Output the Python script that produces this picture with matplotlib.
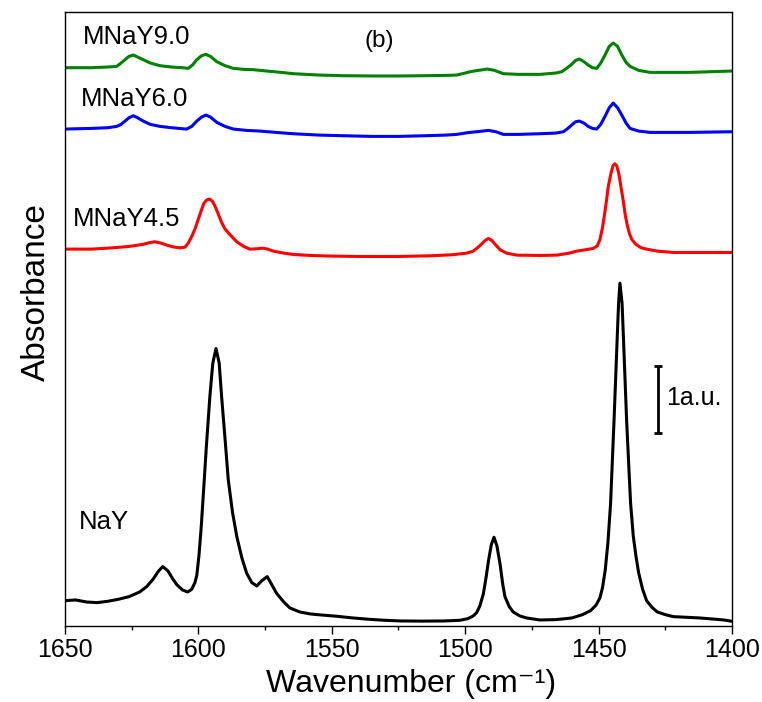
import matplotlib
matplotlib.use('Agg')
import matplotlib.pyplot as plt

plt.rcParams['font.family'] = ['Liberation Sans', 'DejaVu Sans']

# spectra (wavenumber in cm-1, absorbance in a.u.)
nay_wn = [1650, 1646, 1642, 1638, 1634, 1630, 1626, 1622, 1619.4, 1617, 1615,
          1613.4, 1611.5, 1609.5, 1608.1, 1606, 1604, 1602.5, 1601.3, 1600.6,
          1599.8, 1599, 1598.2, 1597, 1595.7, 1594.6, 1593.4, 1592.2, 1591.3,
          1590, 1588.8, 1587.2, 1585.6, 1583.7, 1581.9, 1580, 1578.1, 1576.2,
          1574.2, 1572.5, 1570.7, 1568, 1565.7, 1562, 1558, 1554, 1548, 1542,
          1536, 1530, 1524, 1516, 1508, 1502, 1499, 1497, 1495.7, 1494.5,
          1493.2, 1492.2, 1491.3, 1490.2, 1489.2, 1488.1, 1486.9, 1485.9,
          1485.1, 1483.5, 1482, 1479.5, 1477, 1472, 1466, 1460, 1456, 1453,
          1451, 1449.5, 1448.5, 1447.5, 1446.5, 1445.5, 1444.2, 1443.0, 1442.5,
          1442.0, 1441.2, 1440.7, 1439.5, 1438.5, 1438.0, 1437, 1436, 1435,
          1433.5, 1432, 1430, 1428, 1425, 1422, 1417, 1412, 1406, 1403, 1400]
nay_abs = [0.38, 0.39, 0.36, 0.35, 0.37, 0.40, 0.44, 0.51, 0.59, 0.70, 0.82,
           0.89, 0.83, 0.70, 0.62, 0.54, 0.51, 0.55, 0.65, 0.76,
           1.05, 1.45, 1.94, 2.70, 3.44, 3.94, 4.16, 3.94, 3.44,
           2.80, 2.19, 1.70, 1.34, 1.02, 0.79, 0.65, 0.60, 0.68,
           0.74, 0.62, 0.49, 0.36, 0.27, 0.21, 0.18, 0.165, 0.145, 0.12,
           0.10, 0.085, 0.075, 0.073, 0.075, 0.085, 0.11, 0.15, 0.20, 0.30,
           0.48, 0.72, 0.97, 1.22, 1.33, 1.20, 0.92, 0.62,
           0.44, 0.29, 0.21, 0.15, 0.12, 0.09, 0.095, 0.12, 0.17, 0.23,
           0.31, 0.42, 0.58, 0.84, 1.25, 1.84, 3.09, 4.34, 4.84,
           5.14, 4.84, 4.34, 3.09, 2.25, 1.84, 1.35, 1.05, 0.80,
           0.55, 0.38, 0.28, 0.21, 0.17, 0.14, 0.13, 0.12, 0.10, 0.09, 0.07]

m45_wn = [1650, 1640, 1632, 1626, 1621, 1618, 1616.3, 1614, 1611.9, 1609,
          1606.9, 1605, 1603.8, 1602.5, 1601.3, 1600.2, 1599, 1597.9, 1596.8,
          1595.7, 1594.6, 1593.6, 1592.5, 1591.3, 1590, 1588, 1585.6, 1583,
          1580.7, 1578, 1576, 1574, 1571.9, 1568, 1564.4, 1558, 1551.9, 1540,
          1525, 1513, 1505, 1499.4, 1497, 1495.7, 1494, 1492.5, 1491.3, 1490,
          1488.5, 1486.9, 1484.5, 1480.7, 1472, 1465.7, 1461, 1458.2, 1455,
          1452, 1450.5, 1449.5, 1448.5, 1447.7, 1447, 1446.4, 1445.4, 1444.6,
          1443.9, 1443.2, 1442.4, 1441.6, 1440.7, 1440, 1439.2, 1438.4, 1437.6,
          1436, 1434, 1432, 1428, 1422, 1412, 1400]
m45_abs = [0.15, 0.15, 0.17, 0.19, 0.22, 0.25, 0.26, 0.24, 0.21, 0.18,
           0.17, 0.18, 0.24, 0.34, 0.45, 0.58, 0.72, 0.84, 0.89,
           0.90, 0.86, 0.78, 0.67, 0.55, 0.45, 0.36, 0.26, 0.19,
           0.15, 0.155, 0.165, 0.15, 0.12, 0.09, 0.07, 0.055, 0.047, 0.04,
           0.04, 0.05, 0.065, 0.09, 0.12, 0.16, 0.22, 0.28, 0.31, 0.28,
           0.21, 0.14, 0.09, 0.06, 0.055, 0.06, 0.09, 0.12, 0.14,
           0.16, 0.20, 0.29, 0.48, 0.69, 0.89, 1.08, 1.28, 1.40,
           1.43, 1.40, 1.28, 1.08, 0.86, 0.66, 0.50, 0.38, 0.30,
           0.22, 0.17, 0.15, 0.12, 0.10, 0.10, 0.10]

m60_wn = [1650, 1640, 1634, 1630.6, 1629, 1627.5, 1626, 1624.4, 1622.8, 1620.7,
          1618, 1614.4, 1610, 1606, 1604.4, 1602.5, 1600.6, 1598.8, 1597.2,
          1595.5, 1593.1, 1590, 1586.9, 1582, 1576.9, 1571, 1564.4, 1555,
          1545.7, 1535, 1525, 1515, 1507, 1503.2, 1500, 1498.2, 1494.5, 1491.3,
          1488.5, 1485.7, 1480, 1472, 1466, 1463.2, 1461.5, 1460.1, 1458.6,
          1457.2, 1455.5, 1453.9, 1452.3, 1450.7, 1449.2, 1447.6, 1446, 1444.5,
          1442.9, 1441.3, 1439.7, 1438.2, 1435, 1430.7, 1422, 1415.7, 1408, 1400]
m60_abs = [0.15, 0.16, 0.17, 0.19, 0.22, 0.27, 0.32, 0.35, 0.32, 0.27,
           0.22, 0.19, 0.17, 0.155, 0.15, 0.19, 0.27, 0.33, 0.36,
           0.33, 0.25, 0.19, 0.15, 0.13, 0.12, 0.10, 0.08, 0.06,
           0.05, 0.04, 0.04, 0.05, 0.06, 0.07, 0.09, 0.10, 0.115, 0.13,
           0.11, 0.07, 0.07, 0.08, 0.09, 0.11, 0.16, 0.21, 0.26,
           0.27, 0.24, 0.19, 0.16, 0.15, 0.22, 0.34, 0.47, 0.54,
           0.47, 0.36, 0.24, 0.16, 0.12, 0.10, 0.10, 0.10, 0.105, 0.11]

m90_wn = [1650, 1640, 1634, 1630.6, 1629, 1627.5, 1626, 1624.4, 1622.8, 1620.7,
          1618, 1614.4, 1610, 1606, 1603.8, 1602.2, 1600.6, 1598.8, 1597.2,
          1595.5, 1593.1, 1590, 1586.9, 1583, 1579.4, 1574.4, 1569, 1564.4,
          1555, 1545.7, 1535, 1525, 1515, 1507, 1503.2, 1500, 1498.2, 1495,
          1491.7, 1489, 1485.7, 1480, 1472, 1466, 1463.8, 1462, 1460.1, 1458.6,
          1457.2, 1455.5, 1453.9, 1452.3, 1450.7, 1449.2, 1447.6, 1446, 1444.5,
          1442.9, 1441.3, 1439.7, 1438.2, 1435, 1430.7, 1422, 1415.7, 1408, 1400]
m90_abs = [0.17, 0.17, 0.18, 0.19, 0.24, 0.29, 0.34, 0.36, 0.33, 0.29,
           0.24, 0.20, 0.18, 0.17, 0.16, 0.21, 0.29, 0.35, 0.37,
           0.34, 0.26, 0.20, 0.16, 0.145, 0.14, 0.12, 0.10, 0.08,
           0.06, 0.05, 0.046, 0.046, 0.05, 0.055, 0.06, 0.09, 0.11, 0.13,
           0.15, 0.13, 0.08, 0.07, 0.07, 0.09, 0.11, 0.16, 0.22, 0.28,
           0.30, 0.26, 0.21, 0.17, 0.16, 0.24, 0.36, 0.49, 0.54,
           0.49, 0.36, 0.25, 0.19, 0.13, 0.10, 0.10, 0.10, 0.11, 0.12]

names = ['NaY', 'MNaY4.5', 'MNaY6.0', 'MNaY9.0']
offsets = [0, 5.5, 7.3, 8.2]
colors = ['black', 'red', 'blue', 'green']
spectra = [(nay_wn, nay_abs), (m45_wn, m45_abs), (m60_wn, m60_abs), (m90_wn, m90_abs)]

fig = plt.figure(figsize=(7.62, 7.02), dpi=100)
ax = fig.add_axes([0.0853, 0.1083, 0.8753, 0.8746])

for (wn, ab), off, c in zip(spectra, offsets, colors):
    ax.plot(wn, [a + off for a in ab], color=c, lw=2.2,
            solid_joinstyle='round', solid_capstyle='round')

# sample labels
label_pos = {'MNaY9.0': (1643.3, 8.72), 'MNaY6.0': (1644.1, 7.80),
             'MNaY4.5': (1647.1, 6.00), 'NaY': (1644.8, 1.45)}
for name in names:
    x, y = label_pos[name]
    ax.text(x, y, name, fontsize=18.5, ha='left', va='baseline')

ax.text(1532.3, 8.68, '(b)', fontsize=17.5, ha='center', va='baseline')

# 1 a.u. scale bar
ax.errorbar([1427.6], [3.40], yerr=[0.5], color='black', lw=2, capsize=3, capthick=2)
ax.text(1424.5, 3.31, '1a.u.', fontsize=18, ha='left', va='baseline')

ax.set_xlim(1650, 1400)
ax.set_ylim(0, 9.205)
ax.set_xticks([1650, 1600, 1550, 1500, 1450, 1400])
ax.set_xticks([1625, 1575, 1525, 1475, 1425], minor=True)
ax.set_yticks([])
ax.tick_params(axis='x', which='major', direction='out', length=6, width=1,
               labelsize=18, pad=3)
ax.tick_params(axis='x', which='minor', direction='out', length=3, width=1)
for s in ax.spines.values():
    s.set_linewidth(1)

# x label placed by hand so it sits low like the original without clipping
fig.text(0.54, 0.004, 'Wavenumber (cm\u207b\u00b9)', fontsize=23,
         ha='center', va='bottom')
ax.set_ylabel('Absorbance', fontsize=24)
ax.yaxis.set_label_coords(-0.02, 0.544)

fig.savefig('out.png', dpi=100)
